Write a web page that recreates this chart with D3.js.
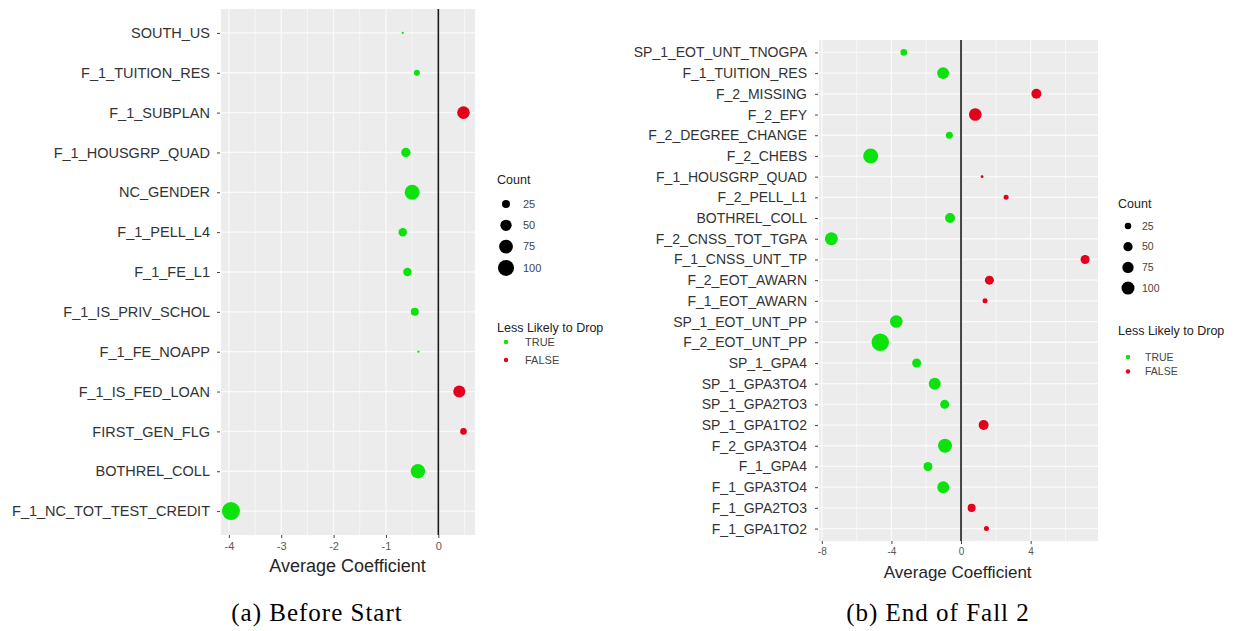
<!DOCTYPE html>
<html>
<head>
<meta charset="utf-8">
<script src="https://cdn.jsdelivr.net/npm/d3@7"></script>
<style>
body { margin: 0; background: #fff; }
text { font-family: 'Liberation Sans', Arial, sans-serif; }
</style>
</head>
<body>
<script>
var width = 1235,
    height = 631;

// (a) Before Start
var leftVars = ['SOUTH_US', 'F_1_TUITION_RES', 'F_1_SUBPLAN', 'F_1_HOUSGRP_QUAD', 'NC_GENDER',
  'F_1_PELL_L4', 'F_1_FE_L1', 'F_1_IS_PRIV_SCHOL', 'F_1_FE_NOAPP', 'F_1_IS_FED_LOAN',
  'FIRST_GEN_FLG', 'BOTHREL_COLL', 'F_1_NC_TOT_TEST_CREDIT'];
var leftCoef = [-0.68, -0.41, 0.48, -0.62, -0.50, -0.68, -0.59, -0.45, -0.38, 0.40, 0.48, -0.39, -3.96];
var leftCount = [2, 14, 62, 34, 88, 28, 28, 25, 2, 56, 17, 81, 127];
var leftLess = [true, true, false, true, true, true, true, true, true, false, false, true, true];

// (b) End of Fall 2
var rightVars = ['SP_1_EOT_UNT_TNOGPA', 'F_1_TUITION_RES', 'F_2_MISSING', 'F_2_EFY', 'F_2_DEGREE_CHANGE',
  'F_2_CHEBS', 'F_1_HOUSGRP_QUAD', 'F_2_PELL_L1', 'BOTHREL_COLL', 'F_2_CNSS_TOT_TGPA',
  'F_1_CNSS_UNT_TP', 'F_2_EOT_AWARN', 'F_1_EOT_AWARN', 'SP_1_EOT_UNT_PP', 'F_2_EOT_UNT_PP',
  'SP_1_GPA4', 'SP_1_GPA3TO4', 'SP_1_GPA2TO3', 'SP_1_GPA1TO2', 'F_2_GPA3TO4',
  'F_1_GPA4', 'F_1_GPA3TO4', 'F_1_GPA2TO3', 'F_1_GPA1TO2'];
var rightCoef = [-3.29, -1.03, 4.33, 0.82, -0.67, -5.19, 1.21, 2.59, -0.63, -7.45,
  7.13, 1.63, 1.38, -3.72, -4.64, -2.55, -1.51, -0.94, 1.30, -0.92,
  -1.90, -1.02, 0.61, 1.46];
var rightCount = [26, 85, 59, 94, 29, 133, 5, 15, 59, 100,
  48, 48, 15, 94, 179, 48, 85, 48, 59, 116,
  48, 85, 38, 15];
var rightLess = [true, true, false, false, true, true, false, false, true, true,
  false, false, false, true, true, true, true, true, false, true,
  true, true, false, false];

var leftTicks = [-4, -3, -2, -1, 0];
var rightTicks = [-8, -4, 0, 4];
var countBreaks = [25, 50, 75, 100];
var lessBreaks = [true, false];
var captions = ['(a) Before Start', '(b) End of Fall 2'];

var color = d3.scaleOrdinal()
  .domain(lessBreaks)
  .range(['#0ce30c', '#e3001a']);

var svg = d3.select('body')
    .append('svg')
    .attr('width', width)
    .attr('height', height)

svg.append('rect')
  .attr('width', width)
  .attr('height', height)
  .attr('fill', '#fff');

function drawPanel(o) {
  var g = svg.append('g');

  var x = d3.scaleLinear().domain(o.xDomain).range([o.left, o.right]);
  var y = d3.scalePoint().domain(o.vars).range([o.top, o.bottom]).padding(0.6);
  var r = d3.scaleSqrt().domain([0, 100]).range([0, o.r100]);

  var step = o.ticks[1] - o.ticks[0];
  var minor = d3.range(o.ticks[0] - step / 2, o.xDomain[1], step)
    .filter(function(d) { return d > o.xDomain[0] && d < o.xDomain[1]; });

  g.append('rect')
    .attr('x', o.left)
    .attr('y', o.top)
    .attr('width', o.right - o.left)
    .attr('height', o.bottom - o.top)
    .attr('fill', '#ececec');

  g.selectAll('.minor')
    .data(minor)
    .enter().append('line')
    .attr('x1', function(d) { return x(d); })
    .attr('x2', function(d) { return x(d); })
    .attr('y1', o.top)
    .attr('y2', o.bottom)
    .attr('stroke', '#fafafa')
    .attr('stroke-width', 0.7);

  g.selectAll('.major')
    .data(o.ticks)
    .enter().append('line')
    .attr('x1', function(d) { return x(d); })
    .attr('x2', function(d) { return x(d); })
    .attr('y1', o.top)
    .attr('y2', o.bottom)
    .attr('stroke', '#fafafa')
    .attr('stroke-width', 1.3);

  g.selectAll('.hgrid')
    .data(o.vars)
    .enter().append('line')
    .attr('x1', o.left)
    .attr('x2', o.right)
    .attr('y1', function(d) { return y(d); })
    .attr('y2', function(d) { return y(d); })
    .attr('stroke', '#fafafa')
    .attr('stroke-width', 1.3);

  // zero line
  g.append('line')
    .attr('x1', x(0))
    .attr('x2', x(0))
    .attr('y1', o.top)
    .attr('y2', o.bottom)
    .attr('stroke', '#1a1a1a')
    .attr('stroke-width', 1.6);

  var rows = o.vars.map(function(v, i) {
    return { name: v, coef: o.coef[i], count: o.count[i], less: o.less[i] };
  });

  g.selectAll('.dot')
    .data(rows)
    .enter().append('circle')
    .attr('cx', function(d) { return x(d.coef); })
    .attr('cy', function(d) { return y(d.name); })
    .attr('r', function(d) { return r(d.count); })
    .attr('fill', function(d) { return color(d.less); });

  var yAxis = g.append('g')
    .attr('transform', 'translate(' + (o.left - 1) + ',0)')
    .call(d3.axisLeft(y).tickSize(3).tickPadding(o.labelPad));
  yAxis.select('.domain').remove();
  yAxis.selectAll('line').attr('stroke', '#444');
  yAxis.selectAll('text')
    .attr('fill', '#333')
    .style('font-size', o.labelSize + 'px')
    .style('font-family', "'Liberation Sans', Arial, sans-serif");

  var xAxis = g.append('g')
    .attr('transform', 'translate(0,' + o.bottom + ')')
    .call(d3.axisBottom(x).tickValues(o.ticks).tickSize(3).tickPadding(4)
      .tickFormat(function(d) { return String(d); }));
  xAxis.select('.domain').remove();
  xAxis.selectAll('line').attr('stroke', '#444');
  xAxis.selectAll('text')
    .attr('fill', '#5a5a5a')
    .style('font-size', o.tickSize + 'px')
    .style('font-family', "'Liberation Sans', Arial, sans-serif");

  g.append('text')
    .attr('x', (o.left + o.right) / 2 + o.titleShift)
    .attr('y', o.titleY)
    .attr('text-anchor', 'middle')
    .attr('fill', '#262626')
    .style('font-size', o.titleSize + 'px')
    .text('Average Coefficient');

  // size legend
  var lg = o.legend;
  g.append('text')
    .attr('x', lg.x)
    .attr('y', lg.countY)
    .attr('fill', '#222')
    .style('font-size', lg.titleSize + 'px')
    .text('Count');

  g.selectAll('.sizekey')
    .data(countBreaks)
    .enter().append('circle')
    .attr('cx', lg.dotX)
    .attr('cy', function(d, i) { return lg.keyY + i * lg.keyStep; })
    .attr('r', function(d) { return r(d); })
    .attr('fill', '#000');

  g.selectAll('.sizelab')
    .data(countBreaks)
    .enter().append('text')
    .attr('x', lg.labX)
    .attr('y', function(d, i) { return lg.keyY + i * lg.keyStep; })
    .attr('dy', '0.35em')
    .attr('fill', '#444')
    .style('font-size', lg.labSize + 'px')
    .text(function(d) { return d; });

  // colour legend
  g.append('text')
    .attr('x', lg.x)
    .attr('y', lg.lessY)
    .attr('fill', '#222')
    .style('font-size', lg.titleSize + 'px')
    .text('Less Likely to Drop');

  g.selectAll('.colkey')
    .data(lessBreaks)
    .enter().append('circle')
    .attr('cx', lg.dotX)
    .attr('cy', function(d, i) { return lg.colY + i * lg.colStep; })
    .attr('r', 2.2)
    .attr('fill', function(d) { return color(d); });

  g.selectAll('.collab')
    .data(lessBreaks)
    .enter().append('text')
    .attr('x', lg.colLabX)
    .attr('y', function(d, i) { return lg.colY + i * lg.colStep; })
    .attr('dy', '0.35em')
    .attr('fill', '#444')
    .style('font-size', lg.labSize + 'px')
    .text(function(d) { return d ? 'TRUE' : 'FALSE'; });

  svg.append('text')
    .attr('x', o.captionX)
    .attr('y', 621)
    .attr('text-anchor', 'middle')
    .attr('fill', '#000')
    .style('font-family', "'Liberation Serif', 'Times New Roman', serif")
    .style('font-size', '25px')
    .style('letter-spacing', '1px')
    .text(o.caption);
}

drawPanel({
  vars: leftVars, coef: leftCoef, count: leftCount, less: leftLess,
  left: 221, right: 475, top: 9, bottom: 535,
  xDomain: [-4.15, 0.70], ticks: leftTicks, r100: 8,
  labelSize: 14.5, labelPad: 7, tickSize: 11,
  titleY: 572, titleSize: 18, titleShift: -0.5,
  caption: captions[0], captionX: 317,
  legend: {
    x: 497, dotX: 506, labX: 523, colLabX: 525,
    countY: 184, keyY: 204, keyStep: 21.3,
    lessY: 332, colY: 342, colStep: 18,
    titleSize: 12.5, labSize: 11
  }
});

drawPanel({
  vars: rightVars, coef: rightCoef, count: rightCount, less: rightLess,
  left: 819, right: 1098, top: 40, bottom: 541,
  xDomain: [-8.16, 7.87], ticks: rightTicks, r100: 6.5,
  labelSize: 14, labelPad: 8, tickSize: 10,
  titleY: 578, titleSize: 17, titleShift: -0.8,
  caption: captions[1], captionX: 938,
  legend: {
    x: 1118, dotX: 1128, labX: 1142, colLabX: 1145,
    countY: 208, keyY: 226, keyStep: 20.7,
    lessY: 335, colY: 357, colStep: 14.5,
    titleSize: 12.5, labSize: 10.5
  }
});
</script>
</body>
</html>
